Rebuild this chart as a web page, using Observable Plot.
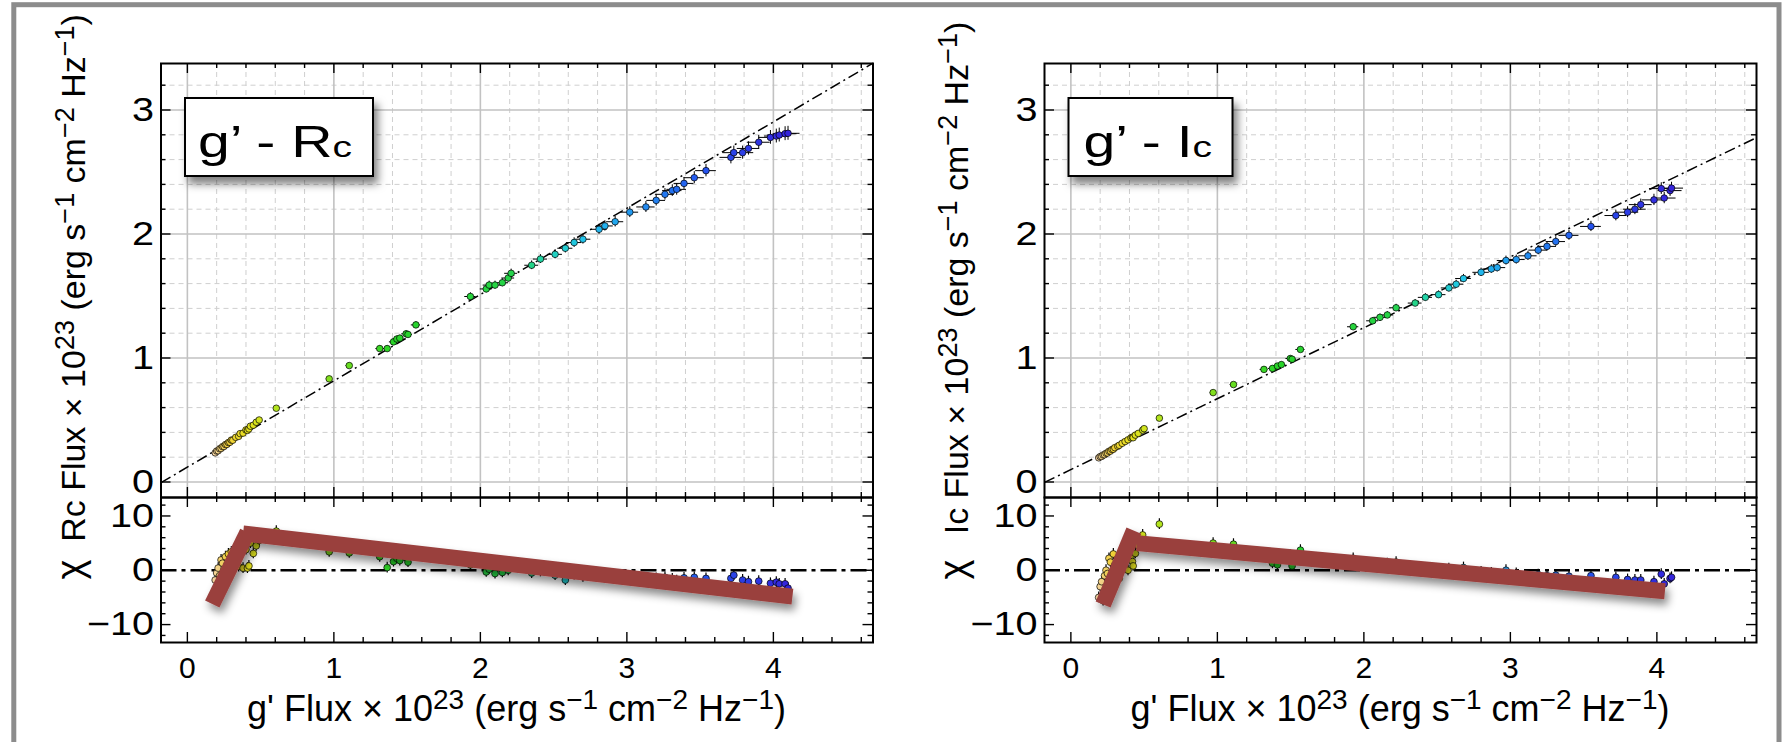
<!DOCTYPE html>
<html><head><meta charset="utf-8">
<script src="https://cdn.jsdelivr.net/npm/d3@7"></script>
<script src="https://cdn.jsdelivr.net/npm/@observablehq/plot@0.6"></script>
<style>
html,body{margin:0;padding:0;background:#fff;}
#wrap{position:relative;width:1787px;height:742px;overflow:hidden;background:#fff;}
#wrap svg{position:absolute;left:0;top:0;}
</style></head><body><div id="wrap"></div>
<script>
// ---------- data: g' vs Rc ----------
const gFluxRc = [0.19,0.20,0.21,0.22,0.23,0.24,0.25,0.26,0.27,0.28,0.29,0.30,0.31,0.33,0.35,0.36,0.38,0.40,0.41,0.42,0.43,0.45,0.47,0.49,
  0.607,0.968,1.105,1.313,1.364,1.407,1.43,1.45,1.493,1.506,1.56,1.932,2.04,2.06,2.10,2.15,2.19,2.21,
  2.35,2.41,2.51,2.58,2.64,2.70,2.81,2.85,2.92,3.02,3.13,3.20,3.26,3.31,3.34,3.39,3.46,3.54,
  3.71,3.73,3.79,3.83,3.90,3.98,4.02,4.04,4.08,4.10];
const rcFlux = [0.235,0.250,0.252,0.268,0.270,0.285,0.286,0.302,0.303,0.318,0.320,0.338,0.337,0.360,0.368,0.390,0.394,0.420,0.416,0.428,0.450,0.458,0.482,0.500,
  0.595,0.832,0.939,1.076,1.076,1.130,1.153,1.160,1.195,1.190,1.267,1.496,1.557,1.588,1.588,1.607,1.645,1.683,
  1.748,1.798,1.836,1.885,1.931,1.958,2.038,2.065,2.099,2.176,2.218,2.271,2.320,2.350,2.360,2.408,2.454,2.511,
  2.618,2.656,2.656,2.690,2.740,2.779,2.790,2.798,2.809,2.812];
const chiRc = [-1.8,-0.5,0.4,-1.0,1.9,1.3,0.2,2.5,1.0,3.0,0.6,3.4,2.0,4.0,0.7,2.8,0.4,3.8,0.4,0.8,5.0,3.1,4.5,5.5,
  7.2,3.4,3.2,2.5,0.5,1.6,2.2,1.8,2.3,1.5,2.8,1.0,-0.3,0.2,-0.6,-0.4,0.0,0.6,
  -0.5,-0.2,-0.9,-1.8,-0.8,-1.2,-1.0,-1.3,-1.5,-1.2,-1.8,-1.5,-1.3,-1.6,-1.9,-1.4,-1.3,-1.5,
  -1.5,-0.9,-1.8,-2.1,-2.0,-2.4,-2.2,-2.5,-2.5,-3.3];
const fitRc = {intercept: 0.12, slope: 0.696};
// hand-drawn trend bars: [x1, chi1, x2, chi2]
const trendRc = [[0.17,-6.2,0.41,7.0],[0.38,6.8,4.13,-4.85]];

// ---------- data: g' vs Ic ----------
const gFluxIc = [0.19,0.20,0.21,0.22,0.23,0.24,0.25,0.26,0.27,0.28,0.29,0.30,0.32,0.33,0.35,0.37,0.39,0.41,0.42,0.425,0.44,0.46,0.49,0.50,
  0.604,0.971,1.11,1.318,1.376,1.41,1.437,1.498,1.51,1.567,1.927,2.06,2.11,2.16,2.22,
  2.35,2.42,2.51,2.58,2.63,2.68,2.80,2.87,2.91,2.97,3.04,3.12,3.19,3.25,3.31,3.40,3.55,
  3.72,3.80,3.85,3.89,3.98,4.03,4.05,4.09,4.10];
const icFlux = [0.195,0.205,0.206,0.218,0.220,0.232,0.234,0.248,0.249,0.262,0.264,0.277,0.288,0.296,0.312,0.326,0.340,0.356,0.362,0.357,0.378,0.392,0.418,0.430,
  0.515,0.721,0.786,0.908,0.916,0.935,0.947,0.996,0.990,1.069,1.252,1.300,1.328,1.347,1.405,
  1.443,1.489,1.511,1.565,1.595,1.641,1.691,1.718,1.729,1.786,1.794,1.824,1.870,1.900,1.939,1.989,2.061,
  2.149,2.176,2.200,2.237,2.275,2.366,2.290,2.350,2.370];
const chiIc = [-5.0,-3.0,-2.1,-5.6,-1.0,0.0,-0.6,2.2,1.5,-2.5,3.0,1.0,2.0,-1.5,3.5,0.5,0.0,2.5,1.6,0.8,3.1,4.5,6.5,5.5,
  8.5,5.0,4.8,3.0,1.3,1.0,2.5,2.8,0.8,3.7,2.2,1.0,0.8,1.2,1.5,
  0.2,0.4,0.0,0.3,-0.2,0.5,-0.3,-0.5,-0.8,0.0,-0.6,-0.9,-0.8,-1.0,-0.9,-1.1,-1.0,
  -1.3,-1.7,-1.8,-1.8,-2.1,-0.7,-2.5,-1.5,-1.3];
const fitIc = {intercept: 0.10, slope: 0.572};
const trendIc = [[0.22,-6.3,0.43,7.3],[0.45,5.0,4.055,-3.86]];

// relative flux error used for error bars; chi errors are 1 by definition
const fluxErrFrac = 0.02;
const chiErr = 1;

// ---------- axes ----------
const xDomain = [-0.18, 4.68];
const fluxDomain = [-0.125, 3.375];
const chiDomain = [-13.3, 13.4];
const xMajorTicks = [0,1,2,3,4];
const xMinorTicks = d3.range(1,24).filter(i => i % 5 !== 0).map(i => i/5);
const fluxMajorTicks = [0,1,2,3];
const fluxMinorTicks = d3.range(1,17).filter(i => i % 5 !== 0).map(i => i/5);
const chiMajorTicks = [-10,0,10];
const chiMinorTicks = [-12,-8,-6,-4,-2,2,4,6,8,12];
const tickFmt = d3.format("d");

// colour by g' flux (rainbow from yellow to violet-blue)
const colorStops = [0.19,0.28,0.42,0.6,1.0,1.4,2.2,2.45,2.7,3.0,3.5,4.1];
const colorRange = ["#f7d6a0","#f4d23a","#e6e21e","#b4e41e","#7ee01e","#28d428","#26d448","#22d4b4","#22c4ec","#229cf0","#2456f0","#3424dc"];

// ---------- layout ----------
const W = 1787, H = 742;
const frameW = 712, upperTop = 63, divider = 497, lowerBottom = 642;
const majorLen = 10, minorLen = 5;
const FONT = '"Liberation Sans", Arial, Helvetica, sans-serif';
const wrap = document.getElementById("wrap");

function tickMarks(yDom, frameH, yMaj, yMin) {
  const kx = (xDomain[1]-xDomain[0]) / frameW, ky = (yDom[1]-yDom[0]) / frameH;
  const s = {stroke: "black", strokeWidth: 1.4};
  return [
    Plot.ruleX(xMajorTicks, {y1: yDom[0], y2: yDom[0] + majorLen*ky, ...s}),
    Plot.ruleX(xMajorTicks, {y1: yDom[1], y2: yDom[1] - majorLen*ky, ...s}),
    Plot.ruleX(xMinorTicks, {y1: yDom[0], y2: yDom[0] + minorLen*ky, ...s}),
    Plot.ruleX(xMinorTicks, {y1: yDom[1], y2: yDom[1] - minorLen*ky, ...s}),
    Plot.ruleY(yMaj, {x1: xDomain[0], x2: xDomain[0] + majorLen*kx, ...s}),
    Plot.ruleY(yMaj, {x1: xDomain[1], x2: xDomain[1] - majorLen*kx, ...s}),
    Plot.ruleY(yMin, {x1: xDomain[0], x2: xDomain[0] + minorLen*kx, ...s}),
    Plot.ruleY(yMin, {x1: xDomain[1], x2: xDomain[1] - minorLen*kx, ...s})
  ];
}
const baseStyle = {background: "transparent", overflow: "visible", fontFamily: FONT, color: "black", maxWidth: "none"};

function upperPlot(left, gf, ff, fit) {
  const data = gf.map((g, i) => ({x: g, y: ff[i]}));
  return Plot.plot({
    width: W, height: divider, marginLeft: left, marginRight: W - left - frameW, marginTop: upperTop, marginBottom: 0,
    x: {domain: xDomain, axis: null}, y: {domain: fluxDomain, axis: null},
    color: {type: "linear", domain: colorStops, range: colorRange},
    style: baseStyle,
    marks: [
      Plot.ruleX(xMinorTicks, {stroke: "#cfcfcf", strokeWidth: 1, strokeDasharray: "5,4"}),
      Plot.ruleY(fluxMinorTicks, {stroke: "#cfcfcf", strokeWidth: 1, strokeDasharray: "5,4"}),
      Plot.ruleX(xMajorTicks, {stroke: "#c2c2c2", strokeWidth: 1.6}),
      Plot.ruleY(fluxMajorTicks, {stroke: "#c2c2c2", strokeWidth: 1.6}),
      Plot.link([fit], {x1: xDomain[0], x2: xDomain[1],
        y1: d => d.intercept + d.slope*xDomain[0], y2: d => d.intercept + d.slope*xDomain[1],
        stroke: "black", strokeWidth: 1.5, strokeDasharray: "11,4,2,4"}),
      Plot.ruleY(data, {y: "y", x1: d => d.x*(1-fluxErrFrac), x2: d => d.x*(1+fluxErrFrac), stroke: "black", strokeWidth: 1}),
      Plot.ruleX(data, {x: "x", y1: d => d.y*(1-fluxErrFrac), y2: d => d.y*(1+fluxErrFrac), stroke: "black", strokeWidth: 1}),
      Plot.dot(data, {x: "x", y: "y", r: 3.3, fill: "x", stroke: "black", strokeWidth: 0.7}),
      ...tickMarks(fluxDomain, divider - upperTop, fluxMajorTicks, fluxMinorTicks),
      Plot.axisY(fluxMajorTicks, {anchor: "left", tickSize: 0, tickPadding: 7, fontSize: 33, tickFormat: tickFmt, label: null}),
      Plot.frame({stroke: "black", strokeWidth: 2})
    ]
  });
}

function lowerPlot(left, gf, chi, trend) {
  const data = gf.map((g, i) => ({x: g, chi: chi[i]}));
  const segs = trend.map(([x1, y1, x2, y2]) => ({x1, y1, x2, y2}));
  return Plot.plot({
    width: W, height: H, marginLeft: left, marginRight: W - left - frameW, marginTop: divider, marginBottom: H - lowerBottom,
    x: {domain: xDomain, axis: null}, y: {domain: chiDomain, axis: null},
    color: {type: "linear", domain: colorStops, range: colorRange},
    style: baseStyle,
    marks: [
      Plot.ruleY([0], {stroke: "black", strokeWidth: 2.4, strokeDasharray: "16,5,4,5"}),
      Plot.ruleX(data, {x: "x", y1: d => d.chi - chiErr, y2: d => d.chi + chiErr, stroke: "black", strokeWidth: 1.2}),
      Plot.dot(data, {x: "x", y: "chi", r: 3.4, fill: "x", stroke: "black", strokeWidth: 0.7}),
      Plot.link(segs, {x1: "x1", y1: "y1", x2: "x2", y2: "y2", stroke: "#9a403e", strokeWidth: 16, strokeLinecap: "butt"}),
      ...tickMarks(chiDomain, lowerBottom - divider, chiMajorTicks, chiMinorTicks),
      Plot.axisY(chiMajorTicks, {anchor: "left", tickSize: 0, tickPadding: 7, fontSize: 33, tickFormat: tickFmt, label: null}),
      Plot.axisX(xMajorTicks, {anchor: "bottom", tickSize: 0, tickPadding: 14, fontSize: 30, tickFormat: tickFmt, label: null}),
      Plot.frame({stroke: "black", strokeWidth: 2})
    ]
  });
}

const panels = [
  {left: 160.5, g: gFluxRc, f: rcFlux, chi: chiRc, fit: fitRc, trend: trendRc, band: "R"},
  {left: 1044, g: gFluxIc, f: icFlux, chi: chiIc, fit: fitIc, trend: trendIc, band: "I"}
];

panels.forEach((p, k) => {
  const up = upperPlot(p.left, p.g, p.f, p.fit);
  const lo = lowerPlot(p.left, p.g, p.chi, p.trend);
  wrap.appendChild(up);
  wrap.appendChild(lo);
  // drop shadow on the trend bars
  const d = d3.select(lo).insert("defs", ":first-child");
  d.append("filter").attr("id", "barShadow" + k).attr("x", "-20%").attr("y", "-50%").attr("width", "140%").attr("height", "200%")
    .append("feDropShadow").attr("dx", 3).attr("dy", 6).attr("stdDeviation", 4).attr("flood-color", "#000").attr("flood-opacity", 0.45);
  lo.querySelectorAll('g[aria-label="link"]').forEach(g => g.setAttribute("filter", `url(#barShadow${k})`));
  // slightly widened y tick labels as in the original
  [up, lo].forEach(svg => svg.querySelectorAll('g[aria-label="y-axis tick label"] text').forEach(t => {
    const tr = t.getAttribute("transform");
    if (tr) t.setAttribute("transform", tr + " scale(1.2,1)");
  }));
});

// ---------- overlay: titles, labels, legends, border ----------
const ov = d3.select(wrap).append("svg").attr("width", W).attr("height", H)
  .style("font-family", FONT).style("white-space", "pre").style("pointer-events", "none");
const defs = ov.append("defs");
defs.append("filter").attr("id", "boxShadow").attr("x", "-20%").attr("y", "-30%").attr("width", "150%").attr("height", "180%")
  .append("feDropShadow").attr("dx", 4).attr("dy", 7).attr("stdDeviation", 4).attr("flood-color", "#000").attr("flood-opacity", 0.5);

function richText(g, parts, size, supSize, raise) {
  const t = g.append("text").attr("font-size", size).attr("text-anchor", "middle").attr("fill", "black");
  let prevSup = false;
  parts.forEach(([s, sup]) => {
    const ts = t.append("tspan").text(s);
    if (sup) ts.attr("font-size", supSize).attr("dy", -raise);
    else if (prevSup) ts.attr("dy", raise);
    prevSup = !!sup;
  });
  return t;
}
const tail = [[" (erg s"], ["\u22121", 1], [" cm"], ["\u22122", 1], [" Hz"], ["\u22121", 1], [")"]];

panels.forEach(p => {
  const cx = p.left + frameW/2;
  const xt = ov.append("g").attr("transform", `translate(${cx},721)`);
  richText(xt, [["g' Flux \u00d7 10"], ["23", 1], ...tail], 36, 28, 12);
  const yt = ov.append("g").attr("transform", `translate(${p.left - 76},${(upperTop + divider)/2 - 2}) rotate(-90)`);
  richText(yt, [[p.band + "c Flux \u00d7 10"], ["23", 1], ...tail], 34, 27, 11);
  const ct = ov.append("g").attr("transform", `translate(${p.left - 78},${(divider + lowerBottom)/2}) rotate(-90)`);
  richText(ct, [["\u03c7"]], 38, 30, 0);
  // legend box
  const bx = p.left + 24.5, bw = p.band === "R" ? 188 : 164;
  ov.append("rect").attr("x", bx).attr("y", 98).attr("width", bw).attr("height", 78)
    .attr("fill", "white").attr("stroke", "black").attr("stroke-width", 2).attr("filter", "url(#boxShadow)");
  const lt = ov.append("text").attr("transform", `translate(${bx + (p.band === "R" ? 13 : 15)},157) scale(1.3,1)`)
    .attr("font-size", 44).attr("fill", "black");
  lt.append("tspan").text("g\u2019 - " + p.band);
  lt.append("tspan").attr("font-size", 30).text("c");
});

ov.append("rect").attr("x", 13.8).attr("y", 4.7).attr("width", 1765.2).attr("height", 800)
  .attr("fill", "none").attr("stroke", "#8c8c8c").attr("stroke-width", 5);
</script></body></html>
